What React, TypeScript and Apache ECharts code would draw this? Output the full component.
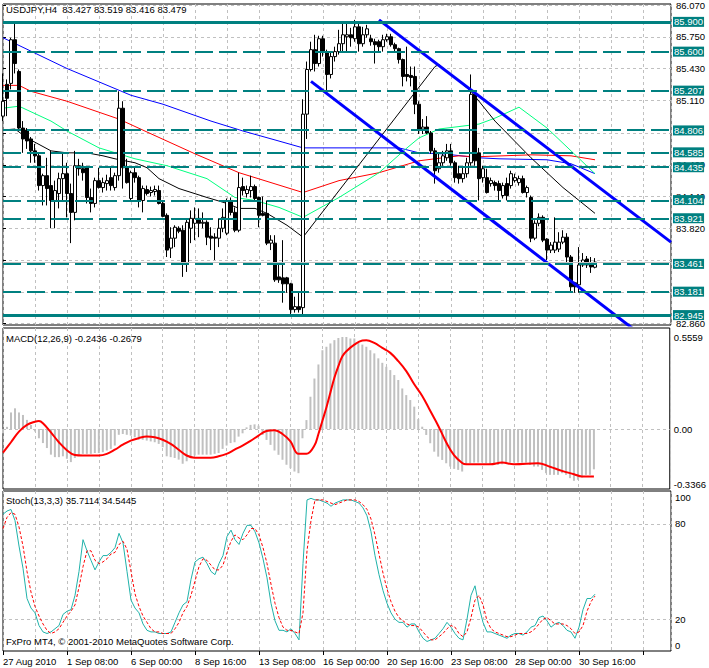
import React, { useEffect, useRef } from "react";
import * as echarts from "echarts";

// ---------- data ----------
const symbolTitle = "USDJPY,H4";
const timeLabels = ["27 Aug 2010", "1 Sep 08:00", "6 Sep 00:00", "8 Sep 16:00", "13 Sep 08:00", "16 Sep 00:00", "20 Sep 16:00", "23 Sep 08:00", "28 Sep 00:00", "30 Sep 16:00"];
const priceTicks = [82.86, 83.18, 83.5, 83.82, 84.14, 84.46, 84.78, 85.11, 85.43, 85.75, 86.07];
// tick labels that stay visible (the others sit fully under the level boxes)
const priceLabels = [82.86, 83.82, 84.14, 84.46, 85.11, 85.43, 85.75, 86.07];
const levelValues = [85.9, 85.6, 85.207, 84.806, 84.585, 84.435, 84.104, 83.921, 83.461, 83.181, 82.945];
const solidLevels = [85.9, 82.945];
const bidPrice = 83.479;

const opens = [84.95,85.27,85.28,85.72,85.40,84.83,84.81,84.72,84.60,84.55,84.25,84.35,84.25,84.10,84.17,84.32,84.37,84.17,83.98,84.45,84.42,84.43,84.13,84.07,84.30,84.23,84.27,84.33,84.23,84.35,85.03,84.43,84.12,84.38,84.33,84.10,84.21,84.18,84.19,84.20,84.07,83.95,83.62,83.72,83.82,83.80,83.46,83.82,83.87,83.92,83.87,83.88,83.74,83.73,83.72,83.82,83.77,84.10,83.98,83.80,84.24,84.17,84.20,84.24,84.13,83.97,83.97,83.67,83.67,83.33,83.32,83.32,83.26,83.00,83.03,83.02,84.97,85.42,85.62,85.48,85.73,85.60,85.37,85.55,85.60,85.68,85.75,85.77,85.73,85.85,85.68,85.77,85.73,85.70,85.70,85.65,85.72,85.75,85.67,85.63,85.52,85.37,85.36,85.35,85.07,84.82,84.84,84.78,84.60,84.42,84.48,84.53,84.60,84.48,84.37,84.32,84.37,84.48,85.17,84.58,84.33,84.33,84.27,84.28,84.27,84.15,84.27,84.25,84.30,84.28,84.32,84.18,84.13,83.72,83.87,83.93,83.71,83.60,83.60,83.61,83.68,83.73,83.53,83.27,83.25,83.45,83.51,83.47,83.427];
const highs = [85.38,85.32,85.74,85.88,85.42,84.90,84.83,84.74,84.67,84.57,84.37,84.53,84.60,84.30,84.38,84.57,84.48,84.27,84.60,84.52,84.48,84.45,84.22,84.33,84.43,84.33,84.36,84.43,84.38,85.20,85.10,84.52,84.40,84.43,84.35,84.25,84.25,84.24,84.25,84.25,84.10,83.97,83.83,83.85,83.84,83.85,83.92,84.00,84.03,84.02,83.98,83.90,83.83,83.77,83.92,84.02,84.12,84.13,84.03,84.38,84.33,84.25,84.35,84.26,84.14,84.14,84.10,83.75,83.75,83.47,83.70,83.33,83.27,83.13,83.17,85.12,85.50,85.70,85.77,85.76,85.76,85.62,85.60,85.65,85.82,85.90,85.88,85.84,85.92,85.88,85.85,85.87,85.77,85.73,85.72,85.77,85.78,85.78,85.69,85.64,85.53,85.65,85.45,85.45,85.10,84.92,84.95,84.80,84.63,84.57,84.60,84.67,84.67,84.50,84.45,84.45,84.53,85.37,85.20,84.63,84.45,84.42,84.33,84.30,84.30,84.28,84.33,84.40,84.37,84.35,84.35,84.25,84.15,83.90,83.97,83.95,83.72,83.68,83.93,83.78,83.80,83.77,83.55,83.28,83.63,83.57,83.54,83.53,83.519];
const lows = [84.90,84.95,85.22,85.38,84.80,84.58,84.62,84.48,84.48,84.20,84.05,84.05,83.82,83.82,84.02,84.10,83.93,83.67,83.90,84.35,84.30,84.07,83.98,84.03,84.22,84.18,84.20,84.20,84.20,84.30,84.22,84.27,84.10,84.28,84.03,83.98,84.15,84.14,84.15,84.06,83.93,83.53,83.52,83.63,83.77,83.33,83.38,83.67,83.70,83.73,83.82,83.65,83.60,83.50,83.63,83.78,83.75,83.95,83.78,83.78,84.15,84.13,84.13,84.10,83.83,83.94,83.65,83.60,83.28,83.27,83.07,83.17,82.93,82.97,82.97,82.93,84.72,85.40,85.40,85.45,85.55,85.20,85.33,85.50,85.57,85.60,85.60,85.65,85.70,85.60,85.65,85.74,85.66,85.48,85.60,85.60,85.70,85.65,85.60,85.48,85.25,85.30,85.25,84.97,84.77,84.77,84.77,84.57,84.27,84.38,84.45,84.50,84.45,84.28,84.27,84.28,84.33,84.45,84.45,84.10,84.28,84.17,84.24,84.20,84.10,84.12,84.10,84.22,84.28,84.25,84.17,84.13,83.68,83.70,83.84,83.68,83.50,83.57,83.57,83.58,83.66,83.47,83.18,83.17,83.17,83.43,83.42,83.37,83.416];
const closes = [85.10,85.13,85.72,85.48,84.83,84.72,84.70,84.60,84.55,84.25,84.35,84.22,84.10,84.20,84.32,84.37,84.17,83.98,84.45,84.42,84.38,84.13,84.07,84.30,84.23,84.28,84.30,84.25,84.35,85.03,84.43,84.28,84.38,84.33,84.10,84.22,84.17,84.20,84.21,84.07,83.94,83.60,83.72,83.83,83.79,83.46,83.88,83.92,83.92,83.87,83.88,83.73,83.72,83.72,83.82,83.93,84.10,83.98,83.80,84.23,84.20,84.21,84.24,84.12,83.95,83.95,83.67,83.70,83.30,83.30,83.26,83.26,83.00,83.03,83.00,84.97,85.42,85.62,85.48,85.73,85.60,85.37,85.55,85.60,85.68,85.77,85.77,85.74,85.85,85.68,85.77,85.83,85.70,85.67,85.65,85.72,85.75,85.67,85.63,85.52,85.35,85.35,85.34,85.07,84.82,84.84,84.78,84.60,84.40,84.48,84.55,84.60,84.48,84.33,84.32,84.37,84.48,85.17,84.50,84.32,84.42,84.18,84.30,84.25,84.20,84.25,84.15,84.37,84.33,84.32,84.18,84.23,83.72,83.87,83.93,83.70,83.60,83.65,83.68,83.68,83.73,83.53,83.23,83.23,83.45,83.50,83.45,83.43,83.479];

const maBlue = [[0,85.74],[16,85.43],[32,85.16],[40,85.07],[52,84.90],[60,84.80],[68,84.71],[75,84.63],[99,84.63],[104,84.58],[110,84.57],[119,84.53],[124,84.52],[136,84.51],[142,84.47],[148,84.37]];
const maRed = [[0,85.26],[4,85.26],[7,85.20],[16,85.10],[29,84.92],[36,84.79],[48,84.57],[59,84.38],[67,84.28],[75,84.18],[84,84.30],[94,84.38],[104,84.50],[114,84.55],[118,84.54],[132,84.56],[142,84.55],[148,84.51]];
const maGreen = [[0,85.03],[4,85.05],[12,84.90],[16,84.80],[24,84.63],[33,84.52],[41,84.45],[51,84.32],[58,84.13],[63,84.10],[69,84.03],[75,83.93],[84,84.13],[94,84.38],[101,84.63],[104,84.73],[109,84.82],[119,84.87],[123,84.93],[129,85.04],[136,84.83],[142,84.60],[148,84.37]];
const maBlack = [[0,84.81],[3,84.82],[6,84.73],[12,84.60],[16,84.58],[21,84.58],[25,84.55],[28,84.52],[33,84.48],[36,84.43],[39,84.32],[44,84.22],[51,84.13],[56,84.07],[59,84.02],[63,84.02],[66,83.97],[71,83.85],[75,83.73],[108,85.45],[109,85.47],[117,85.20],[123,84.90],[132,84.53],[140,84.23],[148,83.97]];
const channelUpper = [[94, 85.92], [167, 83.68]];
const channelLower = [[77, 85.30], [160, 82.73]];

const macdHist = [-0.025,0.013,0.10,0.125,0.10,0.085,0.055,0.024,-0.015,-0.056,
-0.085,-0.115,-0.155,-0.17,-0.17,-0.165,-0.18,-0.20,-0.175,-0.155,
-0.15,-0.15,-0.15,-0.145,-0.145,-0.14,-0.13,-0.12,-0.10,-0.035,
-0.03,-0.035,-0.04,-0.05,-0.065,-0.065,-0.07,-0.075,-0.08,-0.09,
-0.11,-0.165,-0.17,-0.175,-0.185,-0.21,-0.195,-0.175,-0.16,-0.155,
-0.155,-0.155,-0.155,-0.15,-0.145,-0.12,-0.10,-0.085,-0.08,-0.046,
-0.026,0.01,0.025,0.028,0.02,-0.036,-0.066,-0.096,-0.13,-0.156,
-0.186,-0.216,-0.237,-0.257,-0.267,-0.056,0.054,0.195,0.305,0.39,
0.476,0.497,0.517,0.537,0.55,0.556,0.556,0.547,0.547,0.527,
0.51,0.497,0.476,0.457,0.427,0.40,0.376,0.356,0.326,0.296,
0.245,0.205,0.175,0.135,0.06,0.014,-0.036,-0.086,-0.137,-0.167,
-0.187,-0.207,-0.227,-0.241,-0.247,-0.257,-0.213,-0.207,-0.203,-0.203,
-0.203,-0.207,-0.213,-0.217,-0.217,-0.213,-0.207,-0.203,-0.203,-0.203,
-0.203,-0.203,-0.217,-0.227,-0.227,-0.247,-0.267,-0.277,-0.277,-0.277,
-0.267,-0.277,-0.297,-0.313,-0.307,-0.293,-0.277,-0.277,-0.2436];
const macdSignal = [[0,-0.143],[2,-0.08],[4,-0.016],[6,0.025],[8,0.044],[9,0.048],[10,0.035],[12,-0.02],[14,-0.08],[16,-0.128],[18,-0.157],[20,-0.16],[24,-0.16],[26,-0.15],[28,-0.125],[30,-0.095],[32,-0.07],[34,-0.055],[36,-0.046],[38,-0.05],[40,-0.065],[42,-0.09],[44,-0.125],[46,-0.16],[48,-0.173],[52,-0.173],[54,-0.165],[56,-0.15],[58,-0.125],[60,-0.1],[62,-0.072],[64,-0.04],[66,-0.012],[68,-0.008],[70,-0.03],[72,-0.075],[74,-0.15],[76,-0.15],[78,-0.1],[79,-0.03],[80,0.05],[81,0.13],[82,0.22],[83,0.31],[84,0.38],[85,0.44],[86,0.47],[88,0.51],[90,0.535],[91,0.537],[93,0.52],[95,0.49],[97,0.46],[99,0.41],[101,0.35],[103,0.27],[105,0.2],[107,0.11],[109,0.02],[111,-0.08],[113,-0.16],[115,-0.205],[116,-0.213],[122,-0.213],[125,-0.203],[128,-0.213],[134,-0.207],[137,-0.228],[140,-0.253],[143,-0.273],[145,-0.287],[148,-0.287]];
const macdLabelValues = [-0.3366, 0, 0.5559];

const stochK = [86,88,89,82,66,52,33,27,24,16,
12,11,12,14,16,23,25,26,35,50,
70,63,57,51,56,60,60,62,65,74,
68,50,32,27,24,17,13,12,12,11,
11,11,12,18,24,29,31,45,56,58,
59,55,50,48,55,60,72,76,70,67,
74,79,79,75,68,58,46,30,19,13,
13,12,14,11,7,55,95,96,95,95,
94,93,91,93,94,95,95,95,94,93,
90,85,75,60,48,38,30,24,20,18,
18,15,17,17,12,8,6,7,8,11,
14,18,15,11,8,7,20,35,41,28,
18,12,12,11,10,9,8,10,11,11,
10,12,15,16,21,22,19,15,17,18,
16,13,12,8,15,26,33,33,35.7114];
const stochD = [77,84,87,86,78,66,50,37,28,22,
17,13,11,12,14,18,22,25,29,40,
53,63,63,57,55,56,58,61,62,67,
69,64,50,36,28,22,18,14,12,12,
11,11,11,14,18,24,28,35,44,53,
58,57,54,51,51,54,62,69,73,71,
70,73,77,77,73,65,55,42,30,21,
15,13,13,12,11,24,63,82,95,95,
95,94,93,92,93,94,95,95,95,94,
92,89,83,73,61,49,39,31,25,21,
19,17,16,16,15,12,9,7,7,9,
11,14,16,15,11,9,12,21,32,35,
29,19,14,12,11,10,9,9,10,11,
11,11,12,14,17,20,21,19,17,17,
17,16,14,11,12,16,25,31,34.5445];
const stochLabelValues = [0, 20, 80, 100];
const stochLevels = [20, 80];

// ---------- layout / style constants ----------
const FONT = "Liberation Sans";
const FS = 9.5;
const GRID_DASH = { color: "#c0c0c0", type: [3, 3], width: 1 };
const TEAL = "#008080";
const BAR_SLOTS = 167;
const PRICE_MIN = 82.845, PRICE_MAX = 86.08;
const MACD_MIN = -0.3625, MACD_MAX = 0.6103;
const STOCH_MIN = 0, STOCH_MAX = 100.6;

function buildOption() {
  const last = closes.length - 1;
  const candleData = opens.map((o, i) => [i, o, closes[i], lows[i], highs[i]]);
  const xGridAxis = (gi: number) => ({
    type: "value", gridIndex: gi, position: "bottom", min: 0, max: BAR_SLOTS, interval: 8,
    axisLine: { show: false }, axisTick: { show: false }, axisLabel: { show: false },
    splitLine: { show: true, lineStyle: GRID_DASH },
  });
  const labelStyle = { color: "#000", fontSize: FS, fontFamily: FONT };
  const titleStyle = { ...labelStyle, fontWeight: "normal" };

  return {
    animation: false,
    backgroundColor: "#fff",
    textStyle: { fontFamily: FONT },
    title: [
      { text: `${symbolTitle}  ${opens[last].toFixed(3)} ${highs[last].toFixed(3)} ${lows[last].toFixed(3)} ${closes[last].toFixed(3)}`, left: 6, top: 4, padding: 0, textStyle: titleStyle },
      { text: "MACD(12,26,9) -0.2436 -0.2679", left: 6, top: 333, padding: 0, textStyle: titleStyle },
      { text: "Stoch(13,3,3) 35.7114 34.5445", left: 6, top: 495, padding: 0, textStyle: titleStyle },
      { text: "FxPro MT4, © 2001-2010 MetaQuotes Software Corp.", left: 6, top: 636, padding: 0, textStyle: titleStyle },
    ],
    grid: [
      { left: 3, top: 2, width: 668, height: 323, show: true, borderColor: "#000", borderWidth: 1 },
      { left: 3, top: 328, width: 668, height: 161, show: true, borderColor: "#000", borderWidth: 1 },
      { left: 3, top: 491, width: 668, height: 160, show: true, borderColor: "#000", borderWidth: 1 },
    ],
    xAxis: [
      xGridAxis(0), xGridAxis(1), xGridAxis(2),
      {
        type: "value", gridIndex: 2, position: "bottom", min: 0, max: BAR_SLOTS, interval: 16,
        axisLine: { show: false }, splitLine: { show: false },
        axisTick: { show: true, length: 4, lineStyle: { color: "#000" } },
        axisLabel: {
          ...labelStyle, align: "left", margin: 5, showMaxLabel: false,
          formatter: (v: number) => { const k = v / 16; return Number.isInteger(k) && timeLabels[k] ? timeLabels[k] : ""; },
        },
      },
    ],
    yAxis: [
      {
        type: "value", gridIndex: 0, position: "right", min: PRICE_MIN, max: PRICE_MAX,
        axisLine: { show: false },
        axisTick: { show: true, length: 3, customValues: priceTicks, lineStyle: { color: "#000" } },
        axisLabel: { ...labelStyle, margin: 5, lineHeight: 9, customValues: priceLabels, formatter: (v: number) => v.toFixed(3) },
        splitLine: { show: true, lineStyle: GRID_DASH },
      },
      {
        type: "value", gridIndex: 0, position: "right", min: PRICE_MIN, max: PRICE_MAX,
        axisLine: { show: false }, axisTick: { show: false }, splitLine: { show: false },
        axisLabel: {
          ...labelStyle, color: "#fff", backgroundColor: TEAL, padding: [1, 1, 0, 1], margin: 2, lineHeight: 9,
          customValues: levelValues, formatter: (v: number) => v.toFixed(3),
        },
      },
      {
        type: "value", gridIndex: 1, position: "right", min: MACD_MIN, max: MACD_MAX,
        axisLine: { show: false },
        axisTick: { show: false, customValues: [0] },
        axisLabel: { ...labelStyle, margin: 4, customValues: macdLabelValues, formatter: (v: number) => (v === 0 ? "0.00" : v.toFixed(4)) },
        splitLine: { show: true, lineStyle: GRID_DASH },
      },
      {
        type: "value", gridIndex: 2, position: "right", min: STOCH_MIN, max: STOCH_MAX,
        axisLine: { show: false },
        axisTick: { show: false, customValues: stochLevels },
        axisLabel: {
          ...labelStyle, margin: 4, customValues: stochLabelValues,
          formatter: (v: number) => (v === 100 ? "{t|100}" : v === 0 ? "{b|0}" : String(v)),
          rich: {
            t: { ...labelStyle, padding: [11, 0, 0, 0] },
            b: { ...labelStyle, padding: [0, 0, 11, 0] },
          },
        },
        splitLine: { show: true, lineStyle: GRID_DASH },
      },
    ],
    series: [
      { type: "line", xAxisIndex: 0, yAxisIndex: 0, data: maBlue, symbol: "none", lineStyle: { color: "#0000ff", width: 1 }, z: 2 },
      { type: "line", xAxisIndex: 0, yAxisIndex: 0, data: maRed, symbol: "none", lineStyle: { color: "#ff0000", width: 1 }, z: 2 },
      { type: "line", xAxisIndex: 0, yAxisIndex: 0, data: maGreen, symbol: "none", lineStyle: { color: "#00ff7f", width: 1 }, z: 2 },
      { type: "line", xAxisIndex: 0, yAxisIndex: 0, data: maBlack, symbol: "none", lineStyle: { color: "#000000", width: 1 }, z: 2 },
      {
        type: "candlestick", xAxisIndex: 0, yAxisIndex: 0, data: candleData, barWidth: 3, z: 3,
        itemStyle: { color: "#ffffff", color0: "#000000", borderColor: "#000000", borderColor0: "#000000", borderWidth: 1 },
        markLine: {
          silent: true, symbol: ["none", "none"], label: { show: false }, animation: false,
          data: [
            { yAxis: bidPrice, lineStyle: { color: "#c0c0c0", type: "solid", width: 1 } },
            ...levelValues.map((v) => ({
              yAxis: v,
              lineStyle: solidLevels.includes(v)
                ? { color: TEAL, type: "solid", width: 3 }
                : { color: TEAL, type: [18, 6], width: 2 },
            })),
          ],
        },
      },
      { type: "line", xAxisIndex: 0, yAxisIndex: 0, data: channelUpper, symbol: "none", lineStyle: { color: "#0000ff", width: 3 }, z: 4 },
      { type: "line", xAxisIndex: 0, yAxisIndex: 0, data: channelLower, symbol: "none", lineStyle: { color: "#0000ff", width: 3 }, z: 4 },
      {
        type: "bar", xAxisIndex: 1, yAxisIndex: 2, data: macdHist.map((v, i) => [i, v]),
        barWidth: 2, itemStyle: { color: "#c0c0c0" },
      },
      {
        type: "line", xAxisIndex: 1, yAxisIndex: 2, data: macdSignal, symbol: "none", smooth: 0.4,
        lineStyle: { color: "#ff0000", width: 2 }, z: 3,
      },
      {
        type: "line", xAxisIndex: 2, yAxisIndex: 3, data: stochK.map((v, i) => [i, v]), symbol: "none",
        lineStyle: { color: "#20b2aa", width: 1 },
      },
      {
        type: "line", xAxisIndex: 2, yAxisIndex: 3, data: stochD.map((v, i) => [i, v]), symbol: "none",
        lineStyle: { color: "#ff0000", width: 1, type: [3, 2] },
      },
    ],
  };
}

export default function App() {
  const ref = useRef<HTMLDivElement>(null);
  useEffect(() => {
    if (!ref.current) return;
    const chart = echarts.init(ref.current, null, { renderer: "svg" });
    chart.setOption(buildOption() as any);
    return () => chart.dispose();
  }, []);
  return (
    <div
      ref={ref}
      style={{ position: "fixed", left: 0, top: 0, width: 709, height: 668, background: "#fff" }}
    />
  );
}
